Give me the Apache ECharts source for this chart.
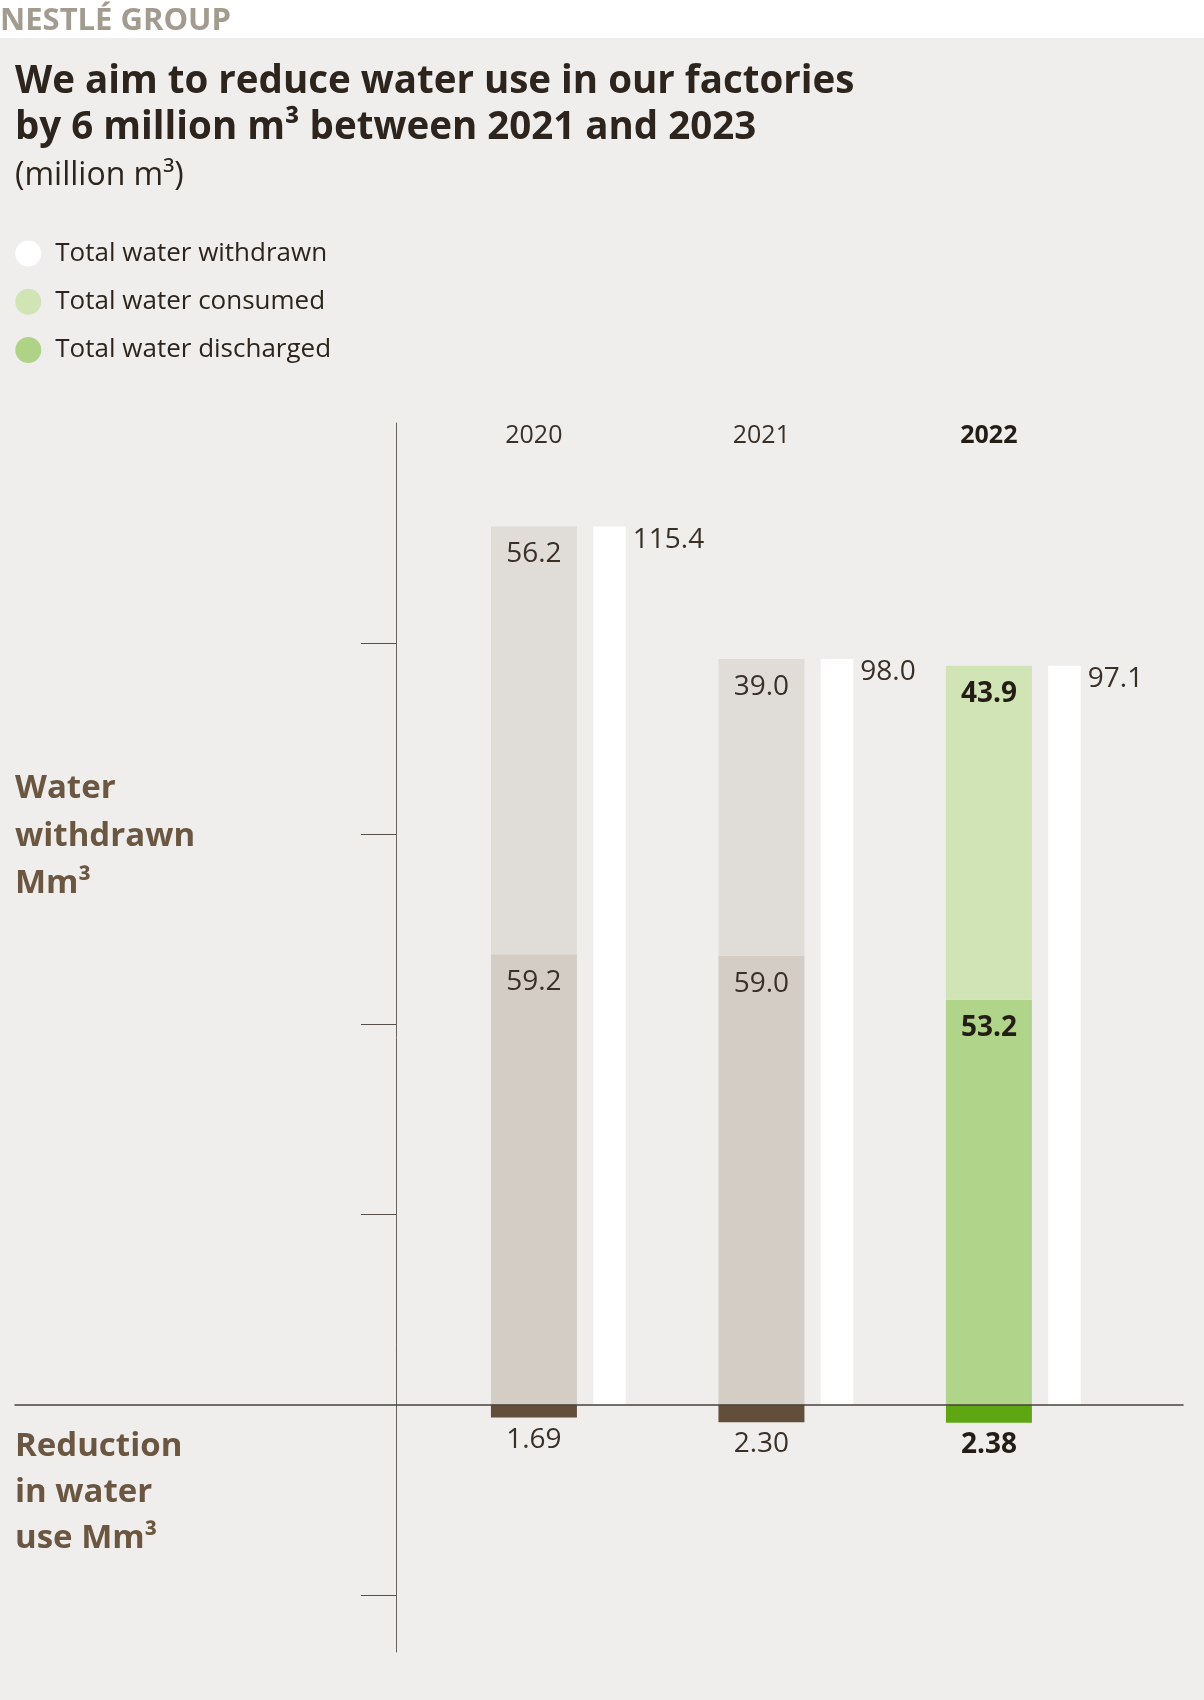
<!DOCTYPE html>
<html>
<head>
<meta charset="utf-8">
<title>Water use in factories</title>
<script src="https://cdn.jsdelivr.net/npm/echarts@6/dist/echarts.min.js"></script>
<style>
  html, body { margin: 0; padding: 0; background: #efeeec; }
  #chart { width: 1204px; height: 1700px; }
</style>
</head>
<body>
<div id="chart"></div>
<script>
// Reporting years and values (million m³)
const years = ['2020', '2021', '2022'];
const discharged = [59.2, 59.0, 53.2];
const consumed = [56.2, 39.0, 43.9];
const withdrawn = [115.4, 98.0, 97.1];
const reduction = [1.69, 2.30, 2.38];
const tickValues = [-25, 25, 50, 75, 100];
const currentYear = '2022';

const CUR = years.indexOf(currentYear);
const INK = '#2d251d';
const LABEL = '#3a3028';
const BROWN = '#6b5741';
const FONT = '"Open Sans", "Noto Sans", sans-serif';

// Past years in neutral greys/brown, the reporting year in greens
function items(values, pastColor, curColor, sign) {
  return values.map((v, i) => ({
    value: sign * v,
    itemStyle: { color: i === CUR ? curColor : pastColor },
    label: i === CUR ? { fontWeight: 'bold', color: '#241d16' } : {}
  }));
}

const valueLabel = {
  fontFamily: FONT,
  fontSize: 28,
  color: LABEL
};

// Year captions sit over the stacked column, left of the category centre
const yearPad = [0, 49, 0, 0];

const chart = echarts.init(document.getElementById('chart'), null, { renderer: 'canvas' });

chart.setOption({
  backgroundColor: '#efeeec',
  animation: false,
  textStyle: { fontFamily: FONT },
  graphic: [
    { type: 'rect', left: 0, top: 0, shape: { width: 1204, height: 38 }, style: { fill: '#ffffff' }, silent: true },
    { type: 'text', left: 0, top: 5.5, style: { text: 'NESTLÉ GROUP', font: 'bold 31px ' + FONT, fill: '#a39b8f' } },
    { type: 'text', left: 15, top: 59.5, style: {
        text: 'We aim to reduce water use in our factories\nby 6 million m³ between 2021 and 2023',
        font: 'bold 38.5px ' + FONT, lineHeight: 46, fill: INK } },
    { type: 'text', left: 15, top: 160, style: { text: '(million m³)', font: '32px ' + FONT, lineHeight: 32, fill: INK } },
    { type: 'text', left: 15, top: 765, style: { text: 'Water\nwithdrawn\nMm³', font: 'bold 33px ' + FONT, lineHeight: 47.5, fill: BROWN } },
    { type: 'text', left: 15, top: 1423, style: { text: 'Reduction\nin water\nuse Mm³', font: 'bold 33px ' + FONT, lineHeight: 46.3, fill: BROWN } }
  ],
  legend: {
    orient: 'vertical',
    left: 10.3,
    top: 235.6,
    itemGap: 22.2,
    itemWidth: 44,
    itemHeight: 26,
    icon: 'circle',
    selectedMode: false,
    data: ['Total water withdrawn', 'Total water consumed', 'Total water discharged'],
    textStyle: { fontFamily: FONT, fontSize: 26, color: INK }
  },
  grid: [
    // frame for the zero baseline that runs under the side captions
    { left: 15, right: 21, top: 423, bottom: 48 },
    // bars
    { left: 444.6, width: 682.5, top: 423, bottom: 48 }
  ],
  xAxis: [
    {
      gridIndex: 0, type: 'value', min: 0, max: 1, z: 10,
      axisLine: { show: true, onZero: true, lineStyle: { color: '#4a433c', width: 1.5 } },
      axisTick: { show: false }, axisLabel: { show: false }, splitLine: { show: false }
    },
    {
      gridIndex: 1, type: 'category', data: years, position: 'top',
      axisLine: { show: false }, axisTick: { show: false },
      axisLabel: {
        inside: true, margin: 0,
        formatter: v => (v === currentYear ? '{b|' + v + '}' : '{n|' + v + '}'),
        rich: {
          n: { fontFamily: FONT, fontSize: 25, color: LABEL, padding: yearPad },
          b: { fontFamily: FONT, fontSize: 25, fontWeight: 'bold', color: '#241d16', padding: yearPad }
        }
      }
    }
  ],
  yAxis: [
    { gridIndex: 0, type: 'value', min: -32.5, max: 129, show: false },
    {
      gridIndex: 1, type: 'value', min: -32.5, max: 129, offset: 48.6,
      axisLine: { show: true, lineStyle: { color: '#6a635b', width: 1 } },
      axisTick: { show: true, length: 35, customValues: tickValues, lineStyle: { color: '#5a5048', width: 1 } },
      axisLabel: { show: false },
      splitLine: { show: false }
    }
  ],
  series: [
    {
      name: 'Total water discharged', type: 'bar', xAxisIndex: 1, yAxisIndex: 1,
      stack: 'water', barWidth: 86, barGap: '19%',
      itemStyle: { color: '#afd386' },
      data: items(discharged, '#d3cdc6', '#b0d489', 1),
      label: Object.assign({ show: true, position: 'insideTop', distance: 14,
        formatter: p => p.value.toFixed(1) }, valueLabel)
    },
    {
      name: 'Total water consumed', type: 'bar', xAxisIndex: 1, yAxisIndex: 1,
      stack: 'water', barWidth: 86, barGap: '19%',
      itemStyle: { color: '#d1e4b5' },
      data: items(consumed, '#e0ddd8', '#d1e4b5', 1),
      label: Object.assign({ show: true, position: 'insideTop', distance: 14,
        formatter: p => p.value.toFixed(1) }, valueLabel)
    },
    {
      name: 'Reduction in water use', type: 'bar', xAxisIndex: 1, yAxisIndex: 1,
      stack: 'water', barWidth: 86, barGap: '19%',
      itemStyle: { color: '#614f3b' },
      data: items(reduction, '#614f3b', '#5ea712', -1),
      label: Object.assign({ show: true, position: 'bottom', distance: 8,
        formatter: p => Math.abs(p.value).toFixed(2) }, valueLabel)
    },
    {
      name: 'Total water withdrawn', type: 'bar', xAxisIndex: 1, yAxisIndex: 1,
      barWidth: 32.5, barGap: '19%',
      itemStyle: { color: '#ffffff' },
      data: withdrawn.map(v => ({ value: v })),
      label: Object.assign({ show: true, position: ['100%', 0], align: 'left', verticalAlign: 'top',
        offset: [7, -0.8], formatter: p => p.value.toFixed(1) }, valueLabel)
    }
  ]
});
</script>
</body>
</html>
